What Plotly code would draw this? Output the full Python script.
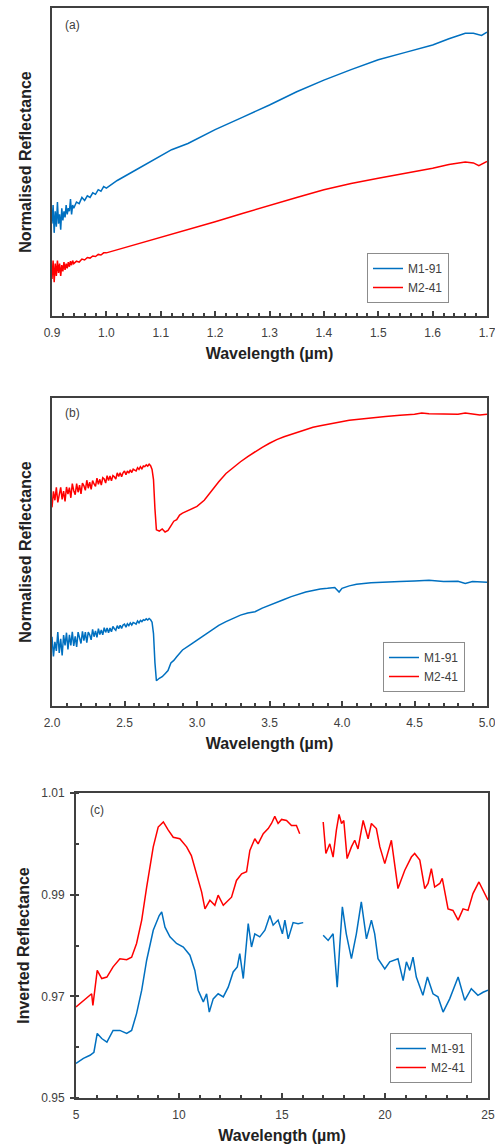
import plotly.graph_objects as go

BLUE = "#0070C0"
RED = "#FF0000"
AX = "#404040"

# ---------------- Panel (a): 0.9-1.7 µm ----------------
a_m1_x = [0.900, 0.902, 0.904, 0.906, 0.908, 0.910, 0.912, 0.914, 0.916, 0.918, 0.920,
          0.922, 0.924, 0.926, 0.928, 0.930, 0.932, 0.934, 0.936, 0.938, 0.940,
          0.945, 0.950, 0.955, 0.960, 0.965, 0.970, 0.975, 0.980, 0.985, 0.990, 0.995, 1.000,
          1.02, 1.05, 1.08, 1.10, 1.12, 1.15, 1.20, 1.25, 1.30, 1.35, 1.40, 1.45, 1.50,
          1.55, 1.60, 1.63, 1.66, 1.675, 1.69, 1.70]
a_m1_y = [0.30, 0.36, 0.27, 0.34, 0.29, 0.37, 0.30, 0.33, 0.28, 0.35, 0.31,
          0.34, 0.32, 0.36, 0.33, 0.35, 0.34, 0.38, 0.33, 0.36, 0.35,
          0.37, 0.365, 0.385, 0.375, 0.39, 0.385, 0.40, 0.395, 0.41, 0.405, 0.42, 0.415,
          0.44, 0.47, 0.50, 0.522, 0.54, 0.56, 0.605, 0.645, 0.685, 0.728, 0.766, 0.80, 0.832,
          0.856, 0.88, 0.90, 0.918, 0.918, 0.911, 0.922]

a_m2_x = [0.900, 0.902, 0.904, 0.906, 0.908, 0.910, 0.912, 0.914, 0.916, 0.918, 0.920,
          0.922, 0.924, 0.926, 0.928, 0.930, 0.932, 0.934, 0.936, 0.938, 0.940,
          0.945, 0.950, 0.955, 0.960, 0.965, 0.970, 0.975, 0.980, 0.985, 0.990, 0.995, 1.000,
          1.05, 1.10, 1.15, 1.20, 1.25, 1.30, 1.35, 1.40, 1.45, 1.50, 1.55, 1.60, 1.63,
          1.66, 1.675, 1.685, 1.70]
a_m2_y = [0.12, 0.18, 0.11, 0.17, 0.13, 0.18, 0.14, 0.17, 0.13, 0.165, 0.145,
          0.175, 0.15, 0.17, 0.155, 0.175, 0.16, 0.178, 0.165, 0.18, 0.17,
          0.178, 0.175, 0.185, 0.182, 0.19, 0.188, 0.195, 0.193, 0.2, 0.198, 0.205, 0.205,
          0.23, 0.257, 0.28, 0.306, 0.333, 0.36, 0.385, 0.41, 0.43, 0.447, 0.463, 0.48, 0.492,
          0.50, 0.497, 0.488, 0.502]

# ---------------- Panel (b): 2-5 µm ----------------
b_x_noisy = [2.00, 2.01, 2.02, 2.03, 2.04, 2.05, 2.06, 2.07, 2.08, 2.09,
             2.10, 2.11, 2.12, 2.13, 2.14, 2.15, 2.16, 2.17, 2.18, 2.19,
             2.20, 2.21, 2.22, 2.23, 2.24, 2.25, 2.26, 2.27, 2.28, 2.29,
             2.30, 2.31, 2.32, 2.33, 2.34, 2.35, 2.36, 2.37, 2.38, 2.39,
             2.40, 2.41, 2.42, 2.43, 2.44, 2.45, 2.46, 2.47, 2.48, 2.49,
             2.50, 2.51, 2.52, 2.53, 2.54, 2.55, 2.56, 2.57, 2.58, 2.59,
             2.60, 2.61, 2.62, 2.63, 2.64, 2.65, 2.66, 2.67, 2.68]

b_m1_x = b_x_noisy + [
    2.69, 2.70, 2.71, 2.715, 2.72, 2.74, 2.76, 2.78, 2.80, 2.82, 2.84, 2.86, 2.88, 2.90,
    2.95, 3.00, 3.05, 3.10, 3.15, 3.20, 3.25, 3.30, 3.35, 3.40, 3.45, 3.50, 3.55, 3.60,
    3.65, 3.70, 3.75, 3.80, 3.85, 3.90, 3.95, 3.98, 4.00, 4.05, 4.10, 4.20, 4.30, 4.40,
    4.50, 4.60, 4.70, 4.80, 4.85, 4.90, 5.00]
b_m1_y = [0.225, 0.161, 0.208, 0.179, 0.240, 0.172, 0.218, 0.164, 0.230, 0.197,
          0.238, 0.184, 0.231, 0.197, 0.241, 0.195, 0.226, 0.192, 0.240, 0.220,
          0.203, 0.242, 0.212, 0.240, 0.206, 0.240, 0.231, 0.215, 0.249, 0.225,
          0.244, 0.223, 0.251, 0.232, 0.247, 0.231, 0.254, 0.239, 0.253, 0.238,
          0.253, 0.241, 0.258, 0.251, 0.246, 0.261, 0.251, 0.262, 0.252, 0.263,
          0.266, 0.256, 0.267, 0.261, 0.270, 0.263, 0.271, 0.269, 0.266, 0.276,
          0.270, 0.278, 0.274, 0.280, 0.278, 0.283, 0.279, 0.284, 0.280,
          0.272, 0.235, 0.14, 0.10, 0.082, 0.09, 0.095, 0.105, 0.115, 0.14, 0.148, 0.16, 0.172, 0.182,
          0.198, 0.214, 0.232, 0.247, 0.262, 0.274, 0.285, 0.295, 0.302, 0.306, 0.318, 0.328, 0.337, 0.346,
          0.355, 0.363, 0.37, 0.375, 0.38, 0.382, 0.385, 0.37, 0.382, 0.39, 0.395, 0.40, 0.403, 0.404,
          0.406, 0.408, 0.404, 0.405, 0.398, 0.404, 0.402]

b_m2_x = b_x_noisy + [
    2.69, 2.70, 2.71, 2.715, 2.72, 2.74, 2.76, 2.78, 2.80, 2.82, 2.84, 2.86, 2.88, 2.90,
    2.95, 3.00, 3.05, 3.10, 3.15, 3.20, 3.25, 3.30, 3.35, 3.40, 3.45, 3.50, 3.55, 3.60,
    3.65, 3.70, 3.75, 3.80, 3.85, 3.90, 3.95, 4.00, 4.05, 4.10, 4.20, 4.30, 4.40, 4.50,
    4.55, 4.60, 4.70, 4.80, 4.85, 4.90, 4.95, 5.00]
b_m2_y = [0.645, 0.697, 0.668, 0.710, 0.661, 0.683, 0.710, 0.671, 0.698, 0.664,
          0.711, 0.688, 0.709, 0.676, 0.722, 0.699, 0.686, 0.722, 0.694, 0.717,
          0.689, 0.724, 0.715, 0.700, 0.733, 0.707, 0.727, 0.703, 0.732, 0.721,
          0.713, 0.740, 0.720, 0.736, 0.717, 0.741, 0.737, 0.724, 0.748, 0.732,
          0.747, 0.731, 0.748, 0.744, 0.737, 0.757, 0.745, 0.757, 0.744, 0.757,
          0.763, 0.751, 0.763, 0.756, 0.767, 0.758, 0.769, 0.766, 0.763, 0.774,
          0.768, 0.777, 0.770, 0.779, 0.777, 0.783, 0.779, 0.785, 0.780,
          0.768, 0.735, 0.64, 0.59, 0.572, 0.568, 0.575, 0.565, 0.57, 0.585, 0.60, 0.605, 0.62, 0.626,
          0.638, 0.648, 0.668, 0.70, 0.728, 0.755, 0.775, 0.793, 0.81, 0.826, 0.84, 0.853, 0.865, 0.874,
          0.882, 0.89, 0.897, 0.905, 0.91, 0.915, 0.918, 0.923, 0.928, 0.93, 0.936, 0.94, 0.944, 0.947,
          0.951, 0.949, 0.948, 0.947, 0.951, 0.949, 0.945, 0.947]

# ---------------- Panel (c): 5-25 µm (gap ~16-17 µm) ----------------
c_m1_x = [5.0, 5.36, 5.68, 5.87, 6.03, 6.25, 6.5, 6.8, 7.13, 7.46, 7.7, 7.94, 8.19, 8.43,
          8.75, 9.04, 9.16, 9.32, 9.56, 9.88, 10.21, 10.53, 10.77, 10.93, 11.18, 11.34,
          11.47, 11.66, 11.9, 12.15, 12.39, 12.63, 12.83, 12.95, 13.12, 13.36, 13.52, 13.68,
          13.92, 14.17, 14.41, 14.57, 14.81, 15.02, 15.14, 15.3, 15.54, 15.78, 16.03,
          16.5,
          17.0, 17.24, 17.48, 17.68, 17.8, 17.93, 18.12, 18.37, 18.61, 18.85, 19.1, 19.34,
          19.5, 19.66, 19.99, 20.23, 20.63, 20.88, 21.04, 21.2, 21.36, 21.52, 21.84, 22.06,
          22.33, 22.57, 22.82, 23.14, 23.55, 23.87, 24.19, 24.51, 24.76, 25.0]
c_m1_y = [0.9568, 0.9578, 0.9584, 0.959, 0.9627, 0.9617, 0.961, 0.9633, 0.9633, 0.9627,
          0.9633, 0.9666, 0.9712, 0.9771, 0.983, 0.9859, 0.9866, 0.9836, 0.9817, 0.9804,
          0.9797, 0.9781, 0.9751, 0.9712, 0.9689, 0.9705, 0.9669, 0.9695, 0.9705, 0.9699,
          0.9718, 0.9748, 0.9758, 0.9784, 0.9735, 0.9843, 0.9797, 0.9823, 0.9817, 0.983,
          0.9859, 0.984, 0.985, 0.9823, 0.985, 0.9813, 0.9845, 0.9843, 0.9845,
          None,
          0.982, 0.981, 0.9823, 0.9718, 0.9797, 0.9876, 0.9823, 0.9774, 0.9823, 0.9886,
          0.9813, 0.985, 0.9823, 0.9774, 0.9754, 0.9768, 0.9774, 0.9731, 0.9768, 0.9751,
          0.9777, 0.9738, 0.9702, 0.9738, 0.9705, 0.9699, 0.9669, 0.9695, 0.9738, 0.9692,
          0.9715, 0.9702, 0.9708, 0.9712]

c_m2_x = [5.0, 5.6, 5.76, 5.82, 6.03, 6.25, 6.5, 6.8, 7.13, 7.46, 7.7, 7.94, 8.19, 8.43,
          8.75, 8.99, 9.24, 9.48, 9.72, 10.04, 10.37, 10.6, 10.85, 11.1, 11.26, 11.5, 11.74,
          11.9, 12.15, 12.39, 12.55, 12.79, 13.04, 13.28, 13.44, 13.68, 13.84, 14.09, 14.33,
          14.49, 14.65, 14.81, 14.98, 15.22, 15.46, 15.7, 15.86,
          16.5,
          17.0, 17.13, 17.32, 17.48, 17.64, 17.77, 17.89, 18.0, 18.16, 18.37, 18.53, 18.69,
          18.94, 19.18, 19.34, 19.58, 19.75, 19.99, 20.31, 20.63, 20.96, 21.28, 21.44, 21.69,
          21.93, 22.09, 22.25, 22.41, 22.66, 22.78, 23.06, 23.3, 23.55, 23.79, 24.03, 24.27,
          24.56, 24.76, 25.0]
c_m2_y = [0.9679, 0.9699, 0.9705, 0.9682, 0.9751, 0.9735, 0.9738, 0.9758, 0.9774, 0.9772,
          0.9777, 0.9804, 0.985, 0.9915, 0.9994, 1.0033, 1.0043, 1.0027, 1.0013, 1.001,
          0.9994, 0.9977, 0.9941, 0.9905, 0.9872, 0.9889, 0.9879, 0.9899, 0.9879, 0.9889,
          0.9895, 0.9928, 0.9941, 0.9945, 0.9987, 1.001, 1.0, 1.002, 1.003, 1.004, 1.0054,
          1.004, 1.0048, 1.0046, 1.0036, 1.0036, 1.002,
          None,
          1.0043, 0.9981, 1.0, 0.9974, 1.0027, 1.0058, 1.004, 1.0046, 0.9971, 0.9994, 1.0007,
          0.999, 1.0046, 1.001, 1.004, 1.003, 0.9994, 0.9961, 1.0007, 0.9912, 0.9948, 0.9974,
          0.9981, 0.9968, 0.9912, 0.9922, 0.9951, 0.9915, 0.9922, 0.9932, 0.9872, 0.9869,
          0.985, 0.9872, 0.9869, 0.9902, 0.9925, 0.9909, 0.9889]

# tick labels
a_ticks = [0.9, 1.0, 1.1, 1.2, 1.3, 1.4, 1.5, 1.6, 1.7]
b_ticks = [2.0, 2.5, 3.0, 3.5, 4.0, 4.5, 5.0]
LEGEND_NAMES = ["M1-91", "M2-41"]

fig = go.Figure()


def add_pair(xb, yb, xr, yr, xa, ya, leg):
    fig.add_trace(go.Scatter(x=xb, y=yb, name=LEGEND_NAMES[0], mode="lines",
                             line=dict(color=BLUE, width=1.5), xaxis=xa, yaxis=ya,
                             legend=leg, connectgaps=False))
    fig.add_trace(go.Scatter(x=xr, y=yr, name=LEGEND_NAMES[1], mode="lines",
                             line=dict(color=RED, width=1.5), xaxis=xa, yaxis=ya,
                             legend=leg, connectgaps=False))


add_pair(a_m1_x, a_m1_y, a_m2_x, a_m2_y, "x", "y", "legend")
add_pair(b_m1_x, b_m1_y, b_m2_x, b_m2_y, "x2", "y2", "legend2")
add_pair(c_m1_x, c_m1_y, c_m2_x, c_m2_y, "x3", "y3", "legend3")

W, H = 495, 1147
FONT = "Arial, Liberation Sans, sans-serif"


def xd(l, r):
    return [l / W, r / W]


def yd(top, bottom):
    return [1 - bottom / H, 1 - top / H]


base = dict(showline=True, linecolor=AX, linewidth=2, mirror=True, showgrid=False,
            zeroline=False, automargin=False, ticklabeloverflow="allow",
            tickfont=dict(size=12, color=AX, family=FONT))
xtitle = dict(text="Wavelength (µm)", font=dict(size=16, color="#222", family=FONT, weight="bold"),
              standoff=8)


def ytitle(t, so):
    return dict(text=t, font=dict(size=16, color="#222", family=FONT, weight="bold"), standoff=so)


inside_x = dict(ticks="inside", ticklen=5, tickwidth=1.5, tickcolor=AX, ticklabelstandoff=5)
overlay = dict(showline=False, showgrid=False, zeroline=False, showticklabels=False,
               automargin=False, ticks="outside", ticklen=3, tickwidth=1.5, tickcolor=AX)
minor_style = dict(ticks="inside", ticklen=3, tickwidth=1.5, tickcolor=AX)

fig.update_layout(
    width=W, height=H, margin=dict(l=0, r=0, t=0, b=0, autoexpand=False),
    paper_bgcolor="white", plot_bgcolor="white",
    font=dict(family=FONT, color=AX),
    # Panel (a)
    xaxis=dict(base, **inside_x, domain=xd(52, 487), anchor="y", range=[0.9, 1.7],
               tickmode="array", tickvals=a_ticks, ticktext=[f"{v:.1f}" for v in a_ticks],
               minor=dict(minor_style, tickmode="linear", dtick=0.02, tick0=0.9),
               title=xtitle),
    yaxis=dict(base, domain=yd(8, 316), anchor="x", range=[0, 1], showticklabels=False,
               ticks="", title=ytitle("Normalised Reflectance", 14)),
    xaxis4=dict(overlay, overlaying="x", anchor="y", range=[0.9, 1.7],
                tickmode="array", tickvals=a_ticks),
    # Panel (b)
    xaxis2=dict(base, **inside_x, domain=xd(52, 487), anchor="y2", range=[2.0, 5.0],
                tickmode="array", tickvals=b_ticks, ticktext=[f"{v:.1f}" for v in b_ticks],
                minor=dict(minor_style, tickmode="linear", dtick=0.1, tick0=2.0),
                title=xtitle),
    yaxis2=dict(base, domain=yd(398, 706), anchor="x2", range=[0, 1], showticklabels=False,
                ticks="", title=ytitle("Normalised Reflectance", 14)),
    xaxis5=dict(overlay, overlaying="x2", anchor="y2", range=[2.0, 5.0],
                tickmode="array", tickvals=b_ticks),
    # Panel (c)
    xaxis3=dict(base, **inside_x, domain=xd(76, 488), anchor="y3", range=[5, 25],
                tick0=5, dtick=5,
                minor=dict(minor_style, dtick=1, tick0=5),
                title=xtitle),
    yaxis3=dict(base, domain=yd(793, 1098), anchor="x3", range=[0.95, 1.01],
                tick0=0.95, dtick=0.02, tickformat=".2f",
                ticks="outside", ticklen=4, tickwidth=1.5, tickcolor=AX, ticklabelstandoff=3,
                minor=dict(minor_style, dtick=0.01, tick0=0.95),
                title=ytitle("Inverted Reflectance", 8)),
    xaxis6=dict(overlay, overlaying="x3", anchor="y3", range=[5, 25], tick0=5, dtick=5),
)

leg_common = dict(bgcolor="white", bordercolor="#8c8c8c", borderwidth=1,
                  font=dict(size=12, color=AX, family=FONT), xanchor="right", yanchor="bottom",
                  tracegroupgap=0, itemwidth=30)
fig.update_layout(
    legend=dict(leg_common, x=449 / W, y=1 - 303 / H),
    legend2=dict(leg_common, x=465 / W, y=1 - 692 / H),
    legend3=dict(leg_common, x=472 / W, y=1 - 1083 / H),
)

for txt, xa, ya, x, y in [("(a)", "x", "y", 0.025, 0.945),
                          ("(b)", "x2", "y2", 0.025, 0.951),
                          ("(c)", "x3", "y3", 0.03, 0.944)]:
    fig.add_annotation(text=txt, xref=f"{xa} domain", yref=f"{ya} domain", x=x, y=y,
                       xanchor="left", yanchor="middle", showarrow=False,
                       font=dict(size=12, color=AX, family=FONT))

fig.write_html("out.html", config={"displayModeBar": False},
               post_script="document.body.style.margin='0';document.body.style.overflow='hidden';")
